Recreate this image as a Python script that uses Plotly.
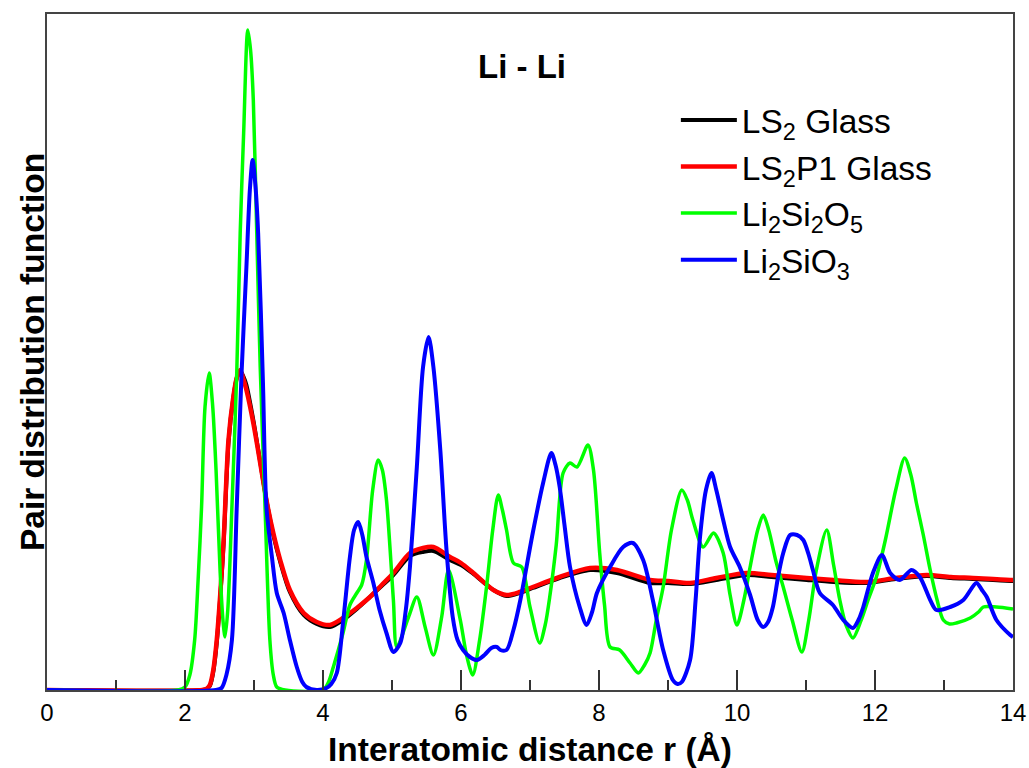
import plotly.graph_objects as go

# ---------------- data ----------------
r_green = [0.0, 1.9, 2.0, 2.07, 2.14, 2.19, 2.24, 2.29, 2.35, 2.40, 2.45, 2.51, 2.55, 2.58, 2.62,
           2.68, 2.75, 2.80, 2.85, 2.91, 2.95, 2.99, 3.04, 3.09, 3.16, 3.23, 3.28, 3.33, 3.45,
           4.0, 4.08, 4.15, 4.29, 4.39, 4.49, 4.56, 4.63, 4.72, 4.80, 4.86, 4.92, 5.02, 5.07,
           5.24, 5.36, 5.48, 5.60, 5.72, 5.82, 5.99, 6.08, 6.17, 6.27, 6.37, 6.46, 6.54, 6.60,
           6.66, 6.76, 6.88, 7.0, 7.14, 7.22, 7.29, 7.38, 7.48, 7.58, 7.68, 7.84, 7.92, 8.01,
           8.08, 8.16, 8.30, 8.45, 8.57, 8.66, 8.74, 8.83, 8.93, 9.05, 9.20, 9.28, 9.36, 9.51,
           9.66, 9.80, 9.90, 10.0, 10.10, 10.19, 10.30, 10.38, 10.46, 10.56, 10.67, 10.80, 10.94,
           11.04, 11.15, 11.30, 11.40, 11.49, 11.58, 11.68, 11.80, 11.90, 12.02, 12.15, 12.30,
           12.43, 12.52, 12.60, 12.70, 12.80, 12.90, 12.99, 13.08, 13.18, 13.38, 13.50, 13.57,
           13.76, 14.0]
g_green = [0, 0, 0.03, 0.15, 0.5, 1.1, 1.83, 2.83, 3.17, 2.85, 2.2, 1.17, 0.7, 0.53, 0.8,
           1.83, 3.17, 4.57, 5.57, 6.6, 6.4, 5.9, 4.57, 3.23, 1.83, 0.5, 0.15, 0.03, 0,
           0, 0.08, 0.23, 0.57, 0.85, 0.97, 1.05, 1.3, 2.0, 2.3, 2.2, 1.9, 0.9, 0.43,
           0.73, 0.93, 0.63, 0.35, 0.73, 1.2, 0.7, 0.35, 0.15, 0.5, 1.03, 1.6, 1.95, 1.8,
           1.6, 1.27, 1.23, 0.83, 0.47, 0.65, 0.95, 1.45, 2.17, 2.27, 2.23, 2.45, 2.2, 1.37,
           0.85, 0.43, 0.4, 0.27, 0.17, 0.25, 0.37, 0.7, 1.03, 1.6, 2.0, 1.9, 1.7, 1.43,
           1.57, 1.37, 0.95, 0.65, 0.9, 1.23, 1.6, 1.75, 1.6, 1.3, 1.03, 0.7, 0.38,
           0.7, 1.2, 1.6, 1.25, 0.9, 0.65, 0.52, 0.7, 0.9, 1.13, 1.5, 2.0,
           2.32, 2.15, 1.87, 1.55, 1.2, 0.9, 0.7, 0.66, 0.67, 0.72, 0.78, 0.83,
           0.83, 0.81]

r_blue = [0.0, 2.45, 2.53, 2.60, 2.68, 2.75, 2.82, 2.89, 2.94, 2.98, 3.02, 3.06, 3.13, 3.18,
          3.26, 3.33, 3.43, 3.52, 3.62, 3.70, 3.76, 3.91, 4.05, 4.12, 4.20, 4.29, 4.39, 4.45,
          4.51, 4.57, 4.63, 4.73, 4.82, 4.92, 5.02, 5.12, 5.20, 5.26, 5.36, 5.45, 5.53, 5.60,
          5.70, 5.79, 5.88, 5.95, 6.03, 6.13, 6.23, 6.34, 6.44, 6.52, 6.57, 6.66, 6.76, 6.86,
          7.04, 7.19, 7.31, 7.37, 7.43, 7.50, 7.58, 7.72, 7.82, 7.90, 7.97, 8.16, 8.35, 8.49,
          8.64, 8.78, 8.93, 9.07, 9.14, 9.20, 9.32, 9.40, 9.46, 9.55, 9.63, 9.70, 9.80, 9.90,
          10.04, 10.19, 10.30, 10.38, 10.45, 10.52, 10.60, 10.67, 10.77, 10.87, 10.96, 11.04,
          11.10, 11.20, 11.39, 11.54, 11.68, 11.76, 11.83, 11.97, 12.10, 12.22, 12.36, 12.53,
          12.65, 12.80, 12.89, 13.09, 13.28, 13.47, 13.55, 13.62, 13.76, 13.96, 14.0]
g_blue = [0, 0, 0.02, 0.15, 0.5, 1.83, 3.17, 4.23, 5.0, 5.3, 5.05, 4.57, 3.07, 1.83,
          1.33, 0.97, 0.77, 0.5, 0.23, 0.08, 0.03, 0, 0.02, 0.06, 0.17, 0.67, 1.33, 1.6,
          1.68, 1.55, 1.33, 1.07, 0.8, 0.57, 0.38, 0.47, 0.8, 1.23, 2.23, 3.23, 3.53, 3.23,
          2.4, 1.4, 0.73, 0.5, 0.4, 0.33, 0.3, 0.35, 0.42, 0.43, 0.4, 0.4, 0.6, 0.9,
          1.57, 2.07, 2.37, 2.25, 2.03, 1.65, 1.23, 0.83, 0.65, 0.78, 0.97, 1.23, 1.43, 1.47,
          1.3, 0.9, 0.4, 0.1, 0.06, 0.08, 0.3, 0.9, 1.5, 2.0, 2.17, 2.0, 1.7, 1.43,
          1.23, 0.95, 0.7, 0.63, 0.68, 0.83, 1.15, 1.37, 1.55, 1.55, 1.5, 1.35,
          1.2, 0.97, 0.85, 0.7, 0.62, 0.7, 0.83, 1.17, 1.35, 1.17, 1.1, 1.2,
          1.13, 0.9, 0.8, 0.83, 0.9, 1.07, 1.0, 0.93, 0.7, 0.55, 0.53]

r_red = [0.0, 2.25, 2.31, 2.36, 2.41, 2.46, 2.51, 2.56, 2.63, 2.70, 2.75, 2.80, 2.85, 2.89,
         2.99, 3.09, 3.18, 3.28, 3.38, 3.52, 3.72, 3.91, 4.10, 4.29, 4.49, 4.68, 4.85, 5.02,
         5.26, 5.45, 5.60, 5.84, 6.0, 6.18, 6.47, 6.66, 6.85, 7.04, 7.43, 7.87, 8.26, 8.74,
         9.0, 9.32, 9.7, 10.14, 10.5, 11.01, 11.4, 11.88, 12.3, 12.75, 13.1, 13.42, 13.96, 14.0]
g_red = [0, 0, 0.01, 0.05, 0.2, 0.5, 0.95, 1.5, 2.5, 2.93, 3.12, 3.2, 3.1, 3.0,
         2.67, 2.27, 1.9, 1.57, 1.3, 1.0, 0.77, 0.68, 0.65, 0.72, 0.82, 0.93, 1.05, 1.17,
         1.37, 1.42, 1.43, 1.33, 1.27, 1.17, 1.0, 0.95, 0.98, 1.03, 1.13, 1.22, 1.2, 1.1,
         1.09, 1.07, 1.12, 1.17, 1.15, 1.12, 1.1, 1.08, 1.12, 1.15, 1.13, 1.12, 1.1, 1.1]

r_black = r_red
g_black = [0, 0, 0.01, 0.04, 0.18, 0.47, 0.92, 1.47, 2.47, 2.92, 3.12, 3.19, 3.13, 3.05,
           2.7, 2.28, 1.9, 1.55, 1.28, 0.98, 0.75, 0.66, 0.63, 0.7, 0.81, 0.93, 1.04, 1.15,
           1.34, 1.38, 1.39, 1.3, 1.25, 1.16, 1.0, 0.94, 0.97, 1.02, 1.12, 1.2, 1.17, 1.07,
           1.07, 1.06, 1.1, 1.15, 1.13, 1.1, 1.08, 1.07, 1.11, 1.14, 1.12, 1.11, 1.09, 1.09]

x_ticks = [0, 2, 4, 6, 8, 10, 12, 14]
x_minor = [1, 3, 5, 7, 9, 11, 13]

FONT = "Liberation Sans, Arial, Helvetica, sans-serif"

fig = go.Figure()
fig.add_trace(go.Scatter(x=r_black, y=g_black, mode="lines", name="LS<sub>2</sub> Glass",
                         line=dict(color="#000000", width=4, shape="spline", smoothing=0.8)))
fig.add_trace(go.Scatter(x=r_red, y=g_red, mode="lines", name="LS<sub>2</sub>P1 Glass",
                         line=dict(color="#ff0000", width=4.5, shape="spline", smoothing=0.8)))
fig.add_trace(go.Scatter(x=r_green, y=g_green, mode="lines", name="Li<sub>2</sub>Si<sub>2</sub>O<sub>5</sub>",
                         line=dict(color="#00ff00", width=3.5, shape="spline", smoothing=0.8)))
fig.add_trace(go.Scatter(x=r_blue, y=g_blue, mode="lines", name="Li<sub>2</sub>SiO<sub>3</sub>",
                         line=dict(color="#0000ff", width=4, shape="spline", smoothing=0.8)))

fig.update_layout(
    width=1029, height=768,
    margin=dict(l=47, r=16, t=14, b=78, autoexpand=False),
    paper_bgcolor="white", plot_bgcolor="white",
    font=dict(family=FONT, color="black"),
    showlegend=True,
    legend=dict(x=0.651, y=0.885, xanchor="left", yanchor="top",
                bgcolor="rgba(0,0,0,0)", font=dict(size=33.5, family=FONT, color="black"),
                itemwidth=56, tracegroupgap=0),
    xaxis=dict(range=[0, 14], tickvals=x_ticks, ticktext=[str(v) for v in x_ticks],
               automargin=False,
               ticks="inside", ticklen=20, tickwidth=1.5, tickcolor="#333",
               minor=dict(tickvals=x_minor, ticks="inside", ticklen=10, tickwidth=1.5,
                          tickcolor="#333", showgrid=False),
               showline=True, linecolor="#444", linewidth=2, mirror=True,
               showgrid=False, zeroline=False,
               tickfont=dict(size=24, family=FONT, color="black"),
               title=dict(text="<b>Interatomic distance r (Å)</b>",
                          font=dict(size=33.5, family=FONT, color="black"), standoff=15)),
    yaxis=dict(range=[0, 6.76], showticklabels=False, ticks="", automargin=False,
               showline=True, linecolor="#444", linewidth=2, mirror=True,
               showgrid=False, zeroline=False),
    annotations=[
        dict(text="<b>Li - Li</b>", x=0.492, y=0.923, xref="paper", yref="paper",
             xanchor="center", yanchor="middle", showarrow=False,
             font=dict(size=33, family=FONT, color="black")),
        dict(text="<b>Pair distribution function</b>", x=-0.0155, y=0.5, xref="paper", yref="paper",
             xanchor="center", yanchor="middle", textangle=-90, showarrow=False,
             font=dict(size=33.5, family=FONT, color="black")),
    ],
)

fig.write_html("out.html")
